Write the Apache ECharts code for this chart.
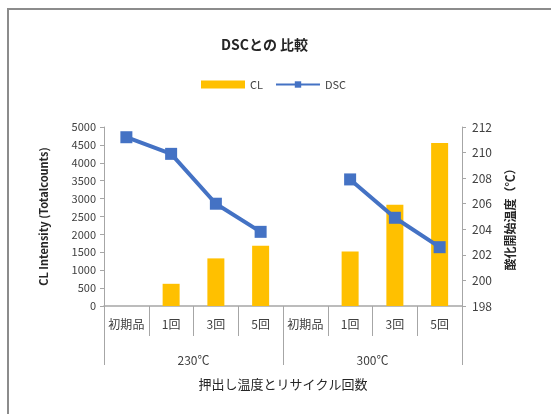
<!DOCTYPE html>
<html>
<head>
<meta charset="utf-8">
<script src="https://cdn.jsdelivr.net/npm/echarts@6/dist/echarts.min.js"></script>
<style>
  html, body { margin: 0; padding: 0; background: #fff; }
  #chart { width: 551px; height: 414px; }
</style>
</head>
<body>
<div id="chart"></div>
<script>
// カテゴリ（回数）と温度グループ
var categories = ['初期品', '1回', '3回', '5回', '初期品', '1回', '3回', '5回'];
var groups = ['230℃', '300℃'];
// CL Intensity (Totalcounts)
var clValues = [0, 620, 1330, 1680, 0, 1520, 2830, 4550];
// DSC 酸化開始温度
var dscValues = [211.2, 209.9, 206.0, 203.8, null, 207.9, 204.9, 202.6];

var font = '"Noto Sans CJK JP", sans-serif';
var textColor = '#404040';
var axisColor = '#a6a6a6';

var myChart = echarts.init(document.getElementById('chart'));
var option = {
    animation: false,
    backgroundColor: '#fff',
    textStyle: { fontFamily: font },
    graphic: [{
        type: 'rect',
        shape: { x: 8, y: 9, width: 600, height: 420 },
        style: { fill: 'none', stroke: '#8c8c8c', lineWidth: 2 },
        silent: true
    }],
    title: {
        text: 'DSCとの 比較',
        left: 216,
        top: 33,
        textStyle: { fontFamily: font, fontSize: 14, fontWeight: 'bold', color: '#262626' }
    },
    legend: {
        left: 196,
        top: 74,
        itemWidth: 44,
        itemHeight: 8,
        itemGap: 12,
        textStyle: { fontFamily: font, fontSize: 11, color: textColor },
        data: [{ name: 'CL', icon: 'rect' }, 'DSC']
    },
    grid: { left: 104, right: 89, top: 127, bottom: 108 },
    xAxis: [{
        type: 'category',
        data: categories,
        axisLine: { lineStyle: { color: axisColor, width: 1.5 } },
        axisTick: { show: true, interval: 0, length: 30, lineStyle: { color: axisColor } },
        axisLabel: { interval: 0, margin: 12, fontSize: 12, color: textColor, fontFamily: font }
    }, {
        type: 'category',
        data: groups,
        position: 'bottom',
        axisLine: { show: false },
        axisTick: { show: true, interval: 0, length: 59, lineStyle: { color: axisColor } },
        axisLabel: { margin: 48, fontSize: 12, color: textColor, fontFamily: font },
        name: '押出し温度とリサイクル回数',
        nameLocation: 'middle',
        nameGap: 72,
        nameTextStyle: { fontSize: 13, color: '#262626', fontFamily: font }
    }],
    yAxis: [{
        type: 'value',
        min: 0,
        max: 5000,
        interval: 500,
        splitLine: { show: false },
        axisLine: { show: true, lineStyle: { color: axisColor } },
        axisTick: { show: true, length: 4, lineStyle: { color: axisColor } },
        axisLabel: {
            fontSize: 11, color: textColor, margin: 8, fontFamily: font,
            formatter: function (v) { return String(v); }
        },
        name: 'CL Intensity (Totalcounts)',
        nameLocation: 'middle',
        nameRotate: 90,
        nameGap: 55,
        nameTextStyle: { fontSize: 11, fontWeight: 'bold', color: '#262626', fontFamily: font }
    }, {
        type: 'value',
        min: 198,
        max: 212,
        interval: 2,
        position: 'right',
        splitLine: { show: false },
        axisLine: { show: true, lineStyle: { color: axisColor } },
        axisTick: { show: true, length: 4, lineStyle: { color: axisColor } },
        axisLabel: { fontSize: 12, color: textColor, margin: 10, fontFamily: font },
        name: '酸化開始温度（℃）',
        nameLocation: 'middle',
        nameRotate: 90,
        nameGap: 42,
        nameTextStyle: { fontSize: 12, fontWeight: 'bold', color: '#262626', fontFamily: font }
    }],
    series: [{
        name: 'CL',
        type: 'bar',
        xAxisIndex: 0,
        yAxisIndex: 0,
        barWidth: 17,
        itemStyle: { color: '#ffc000' },
        data: clValues
    }, {
        name: 'DSC',
        type: 'line',
        xAxisIndex: 0,
        yAxisIndex: 1,
        symbol: 'rect',
        symbolSize: 12,
        lineStyle: { width: 4, color: '#4472c4' },
        itemStyle: { color: '#4472c4' },
        data: dscValues
    }]
};
myChart.setOption(option);
</script>
</body>
</html>
